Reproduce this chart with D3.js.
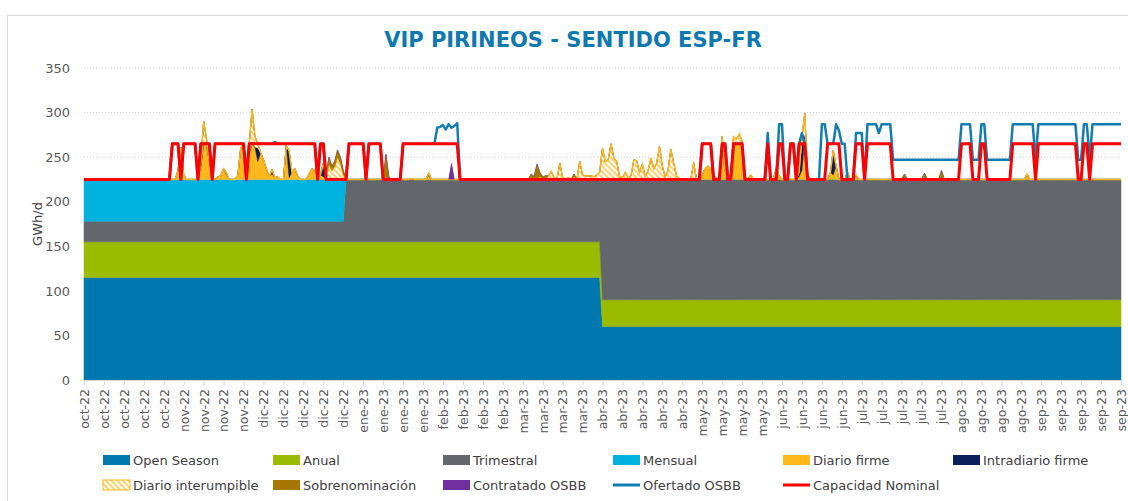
<!DOCTYPE html>
<html>
<head>
<meta charset="utf-8">
<script src="https://cdn.jsdelivr.net/npm/d3@7"></script>
<style>
  body { margin: 0; background: #fff; }
  text { font-family: "DejaVu Sans", Verdana, sans-serif; }
</style>
</head>
<body>
<div id="chart"></div>
<script>
// ---------- data ----------
// one point per day, 1 oct 2022 .. 30 sep 2023 (day index 0..364)
const startDate = new Date(2022, 9, 1);
const nDays = 365;
const monthNames = ["ene", "feb", "mar", "abr", "may", "jun", "jul", "ago", "sep", "oct", "nov", "dic"];
const yTicks = [0, 50, 100, 150, 200, 250, 300, 350];

// step series: [first day index, value]
const openSeasonSteps = [[0, 115], [182, 60]];
const anualSteps = [[0, 40], [182, 30]];
const trimestralSteps = [[0, 23], [92, 70], [182, 135]];
const mensualSteps = [[0, 47], [92, 0]];

const capacidadSteps = [[0, 225], [31, 265], [34, 225], [35, 265], [40, 225], [41, 265], [45, 225],
  [46, 265], [57, 225], [58, 265], [82, 225], [83, 265], [85, 225], [93, 265], [99, 225], [100, 265],
  [105, 225], [112, 265], [132, 225], [217, 265], [221, 225], [224, 265], [226, 225], [228, 265],
  [232, 225], [240, 265], [241, 225], [244, 265], [246, 225], [248, 265], [250, 225], [251, 265],
  [254, 225], [261, 265], [266, 225], [271, 265], [274, 225], [275, 265], [284, 225], [308, 265],
  [312, 225], [315, 265], [317, 225], [326, 265], [334, 225], [335, 265], [349, 225], [351, 265],
  [353, 225], [354, 265]];

const ofertadoSteps = [[0, 225], [31, 265], [34, 225], [35, 265], [40, 225], [41, 265], [45, 225],
  [46, 265], [57, 225], [58, 265], [67, 267], [68, 265], [82, 225], [83, 265], [85, 225], [93, 265],
  [99, 225], [100, 265], [105, 225], [112, 265], [124, 283], [125, 284], [126, 286], [127, 281],
  [128, 287], [129, 283], [130, 285], [131, 288], [132, 225], [217, 265], [221, 225], [224, 265],
  [226, 225], [228, 265], [232, 225], [240, 277], [241, 225], [244, 287], [246, 225], [248, 265],
  [250, 225], [251, 265], [252, 277], [253, 265], [254, 225], [259, 287], [261, 265], [264, 287],
  [265, 280], [266, 265], [268, 225], [271, 277], [274, 225], [275, 287], [279, 277], [280, 287],
  [284, 247], [308, 287], [312, 247], [315, 287], [317, 247], [326, 287], [334, 247], [335, 287],
  [349, 247], [351, 287], [353, 247], [354, 287]];

// sparse daily series: {day index: value}, other days 0
const diarioFirme = {33: 10, 34: 36, 35: 5, 41: 15, 42: 40, 43: 38, 44: 20, 45: 3, 47: 3, 48: 4,
  49: 12, 50: 5, 54: 5, 55: 35, 56: 40, 57: 12, 58: 30, 59: 40, 60: 36, 61: 20, 62: 30, 63: 22,
  64: 12, 65: 3, 66: 6, 67: 2, 68: 3, 71: 38, 72: 2, 73: 8, 74: 12, 75: 4, 79: 6, 80: 12, 81: 10,
  82: 2, 83: 5, 84: 3, 115: 1, 121: 4, 217: 5, 218: 12, 219: 15, 220: 12, 221: 3, 222: 2, 224: 34,
  225: 10, 227: 2, 228: 40, 229: 41, 230: 41, 231: 40, 232: 3, 234: 5, 243: 10, 244: 4, 251: 3,
  252: 10, 253: 45, 254: 5, 262: 8, 263: 5, 264: 15, 268: 8, 271: 5, 331: 4};
const intradiarioFirme = {50: 2, 61: 15, 66: 5, 72: 30, 84: 15, 121: 3, 243: 3, 251: 5, 252: 28,
  253: 5, 263: 28, 331: 2};
const diarioInterumpible = {41: 5, 42: 25, 43: 8, 58: 10, 59: 39, 60: 12, 61: 5, 85: 2, 86: 17,
  87: 10, 88: 14, 89: 25, 90: 18, 91: 5, 160: 3, 163: 4, 164: 9, 165: 2, 167: 18, 168: 3, 170: 2,
  172: 3, 174: 20, 175: 5, 176: 4, 177: 4, 178: 4, 179: 3, 180: 5, 181: 8, 182: 35, 183: 20, 184: 22,
  185: 40, 186: 24, 187: 20, 188: 3, 189: 2, 190: 8, 191: 2, 192: 4, 193: 22, 194: 21, 195: 8,
  196: 17, 197: 3, 198: 10, 199: 24, 200: 12, 201: 18, 202: 37, 203: 15, 204: 3, 205: 10, 206: 34,
  207: 18, 208: 4, 214: 19, 224: 14, 228: 8, 229: 4, 230: 10, 231: 3, 252: 10, 253: 24};
const sobrenominacion = {85: 5, 86: 8, 87: 5, 88: 6, 89: 8, 90: 7, 91: 5, 106: 28, 107: 3, 157: 6,
  158: 3, 159: 17, 160: 5, 161: 3, 162: 4, 172: 3, 288: 6, 295: 7, 301: 10};
const contratadoOsbb = {129: 18};

const areaKeys = ["Open Season", "Anual", "Trimestral", "Mensual", "Diario firme",
  "Intradiario firme", "Diario interumpible", "Sobrenominación", "Contratado OSBB"];
const lineKeys = ["Ofertado OSBB", "Capacidad Nominal"];

// ---------- helpers ----------
function fromSteps(steps) {
  const out = [];
  let k = 0;
  for (let i = 0; i < nDays; i++) {
    while (k + 1 < steps.length && steps[k + 1][0] <= i) k++;
    out.push(steps[k][1]);
  }
  return out;
}
function fromSparse(obj) {
  return d3.range(nDays).map(i => obj[i] || 0);
}

const series = {
  "Open Season": fromSteps(openSeasonSteps),
  "Anual": fromSteps(anualSteps),
  "Trimestral": fromSteps(trimestralSteps),
  "Mensual": fromSteps(mensualSteps),
  "Diario firme": fromSparse(diarioFirme),
  "Intradiario firme": fromSparse(intradiarioFirme),
  "Diario interumpible": fromSparse(diarioInterumpible),
  "Sobrenominación": fromSparse(sobrenominacion),
  "Contratado OSBB": fromSparse(contratadoOsbb),
  "Ofertado OSBB": fromSteps(ofertadoSteps),
  "Capacidad Nominal": fromSteps(capacidadSteps)
};

const rows = d3.range(nDays).map(i => {
  const r = {date: d3.timeDay.offset(startDate, i)};
  areaKeys.concat(lineKeys).forEach(k => { r[k] = series[k][i]; });
  return r;
});

// ---------- chart ----------
const color = {
  "Open Season": "#0077ae",
  "Anual": "#9bbb00",
  "Trimestral": "#63666a",
  "Mensual": "#00b2df",
  "Diario firme": "#ffb81c",
  "Intradiario firme": "#0b1f5c",
  "Diario interumpible": "url(#hatch)",
  "Sobrenominación": "#a67800",
  "Contratado OSBB": "#7030a0",
  "Ofertado OSBB": "#127db5",
  "Capacidad Nominal": "#ff0000"
};

const margin = {top: 68, left: 84};
const width = 1121 - margin.left;
const height = 380 - margin.top;

const svgRoot = d3.select("#chart")
  .append("svg")
  .attr("width", 1128)
  .attr("height", 501);

const defs = svgRoot.append("defs");
const hatch = defs.append("pattern")
  .attr("id", "hatch")
  .attr("patternUnits", "userSpaceOnUse")
  .attr("width", 4)
  .attr("height", 4)
  .attr("patternTransform", "rotate(-45)");
hatch.append("rect").attr("width", 4).attr("height", 4).attr("fill", "#fff");
hatch.append("line")
  .attr("x1", 1).attr("y1", 0).attr("x2", 1).attr("y2", 4)
  .attr("stroke", "#ffb81c").attr("stroke-width", 1.3);

// outer frame
svgRoot.append("rect")
  .attr("x", 7.5).attr("y", 15.5)
  .attr("width", 1130).attr("height", 500)
  .attr("fill", "none").attr("stroke", "#d9d9d9");

// title
svgRoot.append("text")
  .attr("x", 573).attr("y", 47)
  .attr("text-anchor", "middle")
  .attr("font-size", "21px")
  .attr("font-weight", "bold")
  .attr("fill", "#0e78b0")
  .text("VIP PIRINEOS - SENTIDO ESP-FR");

const svg = svgRoot.append("g")
  .attr("transform", `translate(${margin.left}, ${margin.top})`);

const x = d3.scaleTime()
  .domain([startDate, d3.timeDay.offset(startDate, nDays - 1)])
  .range([0, width]);
const y = d3.scaleLinear()
  .domain([0, 350])
  .range([height, 0]);

// gridlines
svg.append("g")
  .selectAll("line")
  .data(yTicks.slice(1))
  .enter()
  .append("line")
  .attr("x1", 0).attr("x2", width)
  .attr("y1", d => y(d)).attr("y2", d => y(d))
  .attr("stroke", "#d0d0d0")
  .attr("stroke-dasharray", "1,2");

// y axis labels
const yAxis = svg.append("g")
  .call(d3.axisLeft(y).tickValues(yTicks).tickSize(0).tickPadding(14));
yAxis.select(".domain").remove();
yAxis.selectAll("text")
  .attr("font-size", "13px")
  .attr("fill", "#595959")
  .style("font-family", "DejaVu Sans, Verdana, sans-serif");

svgRoot.append("text")
  .attr("transform", "translate(42, 224) rotate(-90)")
  .attr("text-anchor", "middle")
  .attr("font-size", "13px")
  .attr("fill", "#404040")
  .text("GWh/d");

// stacked areas
const stackedData = d3.stack().keys(areaKeys)(rows);
const area = d3.area()
  .x(d => x(d.data.date))
  .y0(d => y(d[0]))
  .y1(d => y(d[1]));

svg.append("g")
  .selectAll("path")
  .data(stackedData)
  .enter()
  .append("path")
  .attr("d", area)
  .attr("fill", d => color[d.key])
  .attr("stroke", d => d.key === "Diario interumpible" ? "none" : color[d.key])
  .attr("stroke-width", 0.5);

// outline on top of the interruptible layer
const interLayer = stackedData.find(s => s.key === "Diario interumpible");
svg.append("path")
  .datum(interLayer)
  .attr("d", d3.line().x(d => x(d.data.date)).y(d => y(d[1])))
  .attr("fill", "none")
  .attr("stroke", "#ffb81c")
  .attr("stroke-width", 1.4);

// brown / purple on top of the outline
["Sobrenominación", "Contratado OSBB"].forEach(k => {
  svg.append("path")
    .datum(stackedData.find(s => s.key === k))
    .attr("d", area)
    .attr("fill", color[k]);
});

// lines
lineKeys.forEach(k => {
  svg.append("path")
    .datum(rows)
    .attr("d", d3.line().x(d => x(d.date)).y(d => y(d[k])))
    .attr("fill", "none")
    .attr("stroke", color[k])
    .attr("stroke-width", k === "Capacidad Nominal" ? 3 : 2.5)
    .attr("stroke-linejoin", "round");
});

// x axis, one tick a week
const tickDates = d3.range(0, nDays, 7).map(i => d3.timeDay.offset(startDate, i));
const xAxis = svg.append("g")
  .attr("transform", `translate(0, ${height})`)
  .call(d3.axisBottom(x)
    .tickValues(tickDates)
    .tickSize(5)
    .tickFormat(d => monthNames[d.getMonth()] + "-" + String(d.getFullYear()).slice(2)));
xAxis.select(".domain").attr("stroke", "#d9d9d9");
xAxis.selectAll(".tick line").attr("stroke", "#d9d9d9");
xAxis.selectAll("text")
  .attr("transform", "rotate(-90)")
  .attr("x", -9)
  .attr("y", 0)
  .attr("dy", "0.35em")
  .style("text-anchor", "end")
  .attr("font-size", "12.5px")
  .attr("fill", "#595959")
  .style("font-family", "DejaVu Sans, Verdana, sans-serif");

// legend
const legendItems = areaKeys.concat(lineKeys);
const legend = svgRoot.append("g")
  .selectAll("g")
  .data(legendItems)
  .enter()
  .append("g")
  .attr("transform", (d, i) => `translate(${103 + (i % 6) * 170}, ${i < 6 ? 460 : 485})`);

legend.each(function (d) {
  const g = d3.select(this);
  if (lineKeys.includes(d)) {
    g.append("line")
      .attr("x1", 0).attr("x2", 27)
      .attr("y1", 0).attr("y2", 0)
      .attr("stroke", color[d])
      .attr("stroke-width", 3);
  } else {
    g.append("rect")
      .attr("x", 0).attr("y", -5)
      .attr("width", 27).attr("height", 10)
      .attr("fill", color[d])
      .attr("stroke", d === "Diario interumpible" ? "#ffb81c" : "none");
  }
  g.append("text")
    .attr("x", 30)
    .attr("y", 0)
    .attr("dy", "0.35em")
    .attr("font-size", "13px")
    .attr("fill", "#404040")
    .text(d);
});
</script>
</body>
</html>
